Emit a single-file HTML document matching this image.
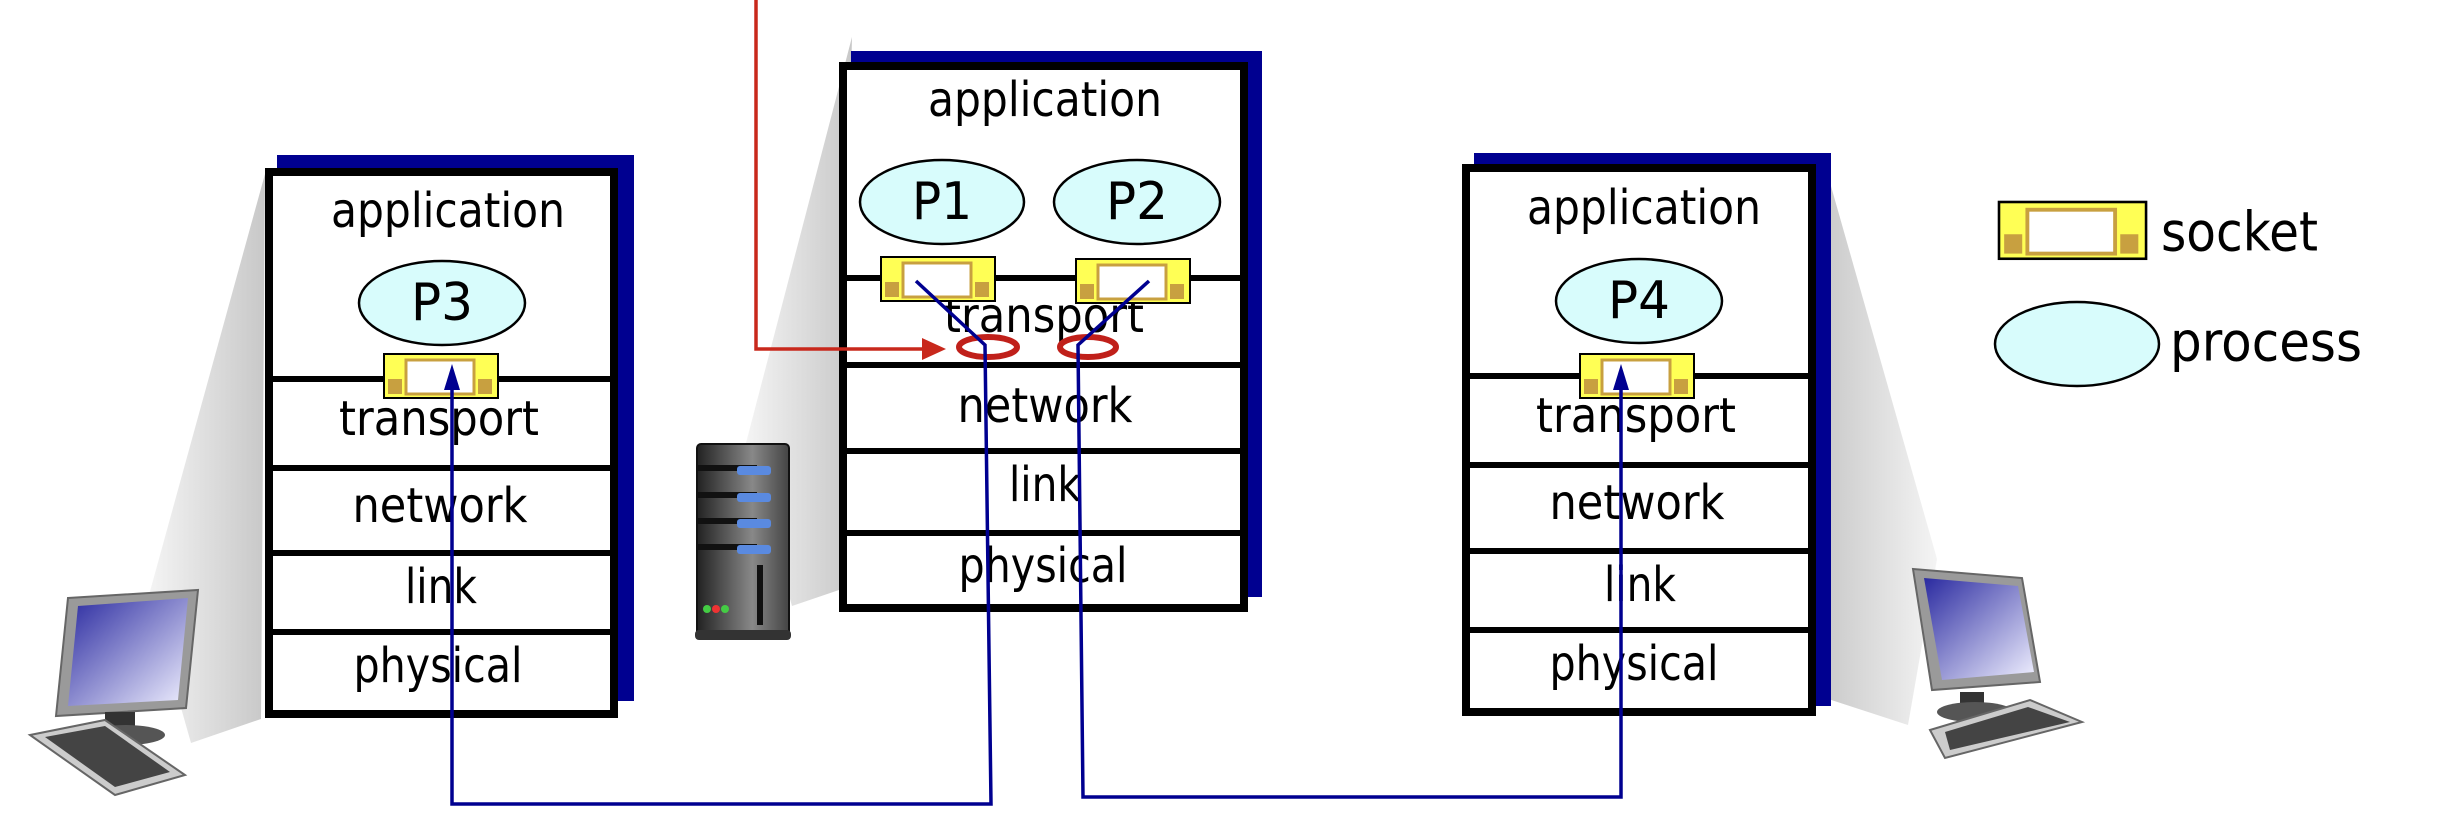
<!DOCTYPE html>
<html><head><meta charset="utf-8"><style>html,body{margin:0;padding:0;background:#fff}svg{display:block}</style></head>
<body>
<svg width="2464" height="826" viewBox="0 0 2464 826" xmlns="http://www.w3.org/2000/svg" font-family="DejaVu Sans, Liberation Sans, sans-serif">
<defs>
<linearGradient id="cone" x1="0" y1="0" x2="1" y2="0"><stop offset="0" stop-color="#f4f4f4"/><stop offset="1" stop-color="#c8c8c8"/></linearGradient>
<linearGradient id="cone2" x1="0" y1="0" x2="1" y2="0"><stop offset="0" stop-color="#c8c8c8"/><stop offset="1" stop-color="#f4f4f4"/></linearGradient>
<linearGradient id="scr" x1="0" y1="0" x2="1" y2="1"><stop offset="0" stop-color="#2a2aa0"/><stop offset="1" stop-color="#f0f0ff"/></linearGradient>
<linearGradient id="srv" x1="0" y1="0" x2="1" y2="0"><stop offset="0" stop-color="#222"/><stop offset="0.6" stop-color="#888"/><stop offset="1" stop-color="#444"/></linearGradient>
<g id="sock">
<rect x="0" y="0" width="114" height="44" fill="#ffff55" stroke="#000" stroke-width="2"/>
<rect x="22" y="6" width="68" height="34" fill="#fff" stroke="#c8a040" stroke-width="3"/>
<rect x="4" y="25" width="14" height="15" fill="#c8a040"/>
<rect x="94" y="25" width="14" height="15" fill="#c8a040"/>
</g>
</defs>

<polygon points="265,174 149,595 191,743 261,719" fill="url(#cone)"/>
<polygon points="852,37 746,443 792,606 839,590" fill="url(#cone)"/>
<polygon points="1823,158 1937,559 1908,725 1819,696" fill="url(#cone2)"/>

<g>
<polygon points="68,598 198,590 186,708 56,716" fill="#9a9a9a" stroke="#666" stroke-width="2"/>
<polygon points="78,606 188,598 178,700 68,706" fill="url(#scr)"/>
<rect x="105" y="712" width="30" height="18" fill="#333"/>
<ellipse cx="125" cy="735" rx="40" ry="10" fill="#555"/>
<polygon points="30,735 105,720 185,775 115,795" fill="#ccc" stroke="#666" stroke-width="2"/>
<polygon points="45,737 105,726 170,772 115,787" fill="#444"/>
</g>
<g>
<polygon points="1913,569 2022,578 2040,682 1932,690" fill="#9a9a9a" stroke="#666" stroke-width="2"/>
<polygon points="1924,578 2018,586 2034,672 1942,680" fill="url(#scr)"/>
<rect x="1960" y="692" width="24" height="16" fill="#333"/>
<ellipse cx="1975" cy="712" rx="38" ry="10" fill="#555"/>
<polygon points="1930,730 2030,700 2082,722 1945,758" fill="#ccc" stroke="#666" stroke-width="2"/>
<polygon points="1945,732 2028,707 2070,722 1950,750" fill="#444"/>
</g>
<g>
<rect x="697" y="444" width="92" height="194" rx="4" fill="url(#srv)" stroke="#111" stroke-width="2"/>
<rect x="697" y="465" width="60" height="6" fill="#111"/>
<rect x="737" y="466" width="34" height="9" rx="3" fill="#5a8ae0"/>
<rect x="697" y="492" width="60" height="6" fill="#111"/>
<rect x="737" y="493" width="34" height="9" rx="3" fill="#5a8ae0"/>
<rect x="697" y="518" width="60" height="6" fill="#111"/>
<rect x="737" y="519" width="34" height="9" rx="3" fill="#5a8ae0"/>
<rect x="697" y="544" width="60" height="6" fill="#111"/>
<rect x="737" y="545" width="34" height="9" rx="3" fill="#5a8ae0"/>
<rect x="757" y="565" width="6" height="60" fill="#111"/>
<circle cx="707" cy="609" r="4" fill="#4c4"/><circle cx="716" cy="609" r="4" fill="#e33"/><circle cx="725" cy="609" r="4" fill="#4c4"/>
<rect x="695" y="630" width="96" height="10" rx="4" fill="#333"/>
</g>

<!-- left stack -->
<rect x="277" y="155" width="357" height="546" fill="#000090"/>
<rect x="269" y="172" width="345" height="542" fill="#fff" stroke="#000" stroke-width="8"/>
<g stroke="#000" stroke-width="6"><line x1="269" y1="379" x2="614" y2="379"/><line x1="269" y1="468" x2="614" y2="468"/><line x1="269" y1="553" x2="614" y2="553"/><line x1="269" y1="632" x2="614" y2="632"/></g>
<g font-size="48" text-anchor="middle" dominant-baseline="central" fill="#000" lengthAdjust="spacingAndGlyphs">
<text x="448" y="211" textLength="234" lengthAdjust="spacingAndGlyphs">application</text><text x="439" y="419" textLength="200" lengthAdjust="spacingAndGlyphs">transport</text><text x="440" y="506" textLength="175" lengthAdjust="spacingAndGlyphs">network</text><text x="441" y="587" textLength="72" lengthAdjust="spacingAndGlyphs">link</text><text x="438" y="666" textLength="169" lengthAdjust="spacingAndGlyphs">physical</text>
</g>
<ellipse cx="442" cy="303" rx="83" ry="42" fill="#d8fcfc" stroke="#000" stroke-width="2.5"/>
<text x="442" y="303" font-size="52" text-anchor="middle" dominant-baseline="central" textLength="62" lengthAdjust="spacingAndGlyphs">P3</text>
<use href="#sock" x="384" y="354"/>

<!-- middle stack -->
<rect x="851" y="51" width="411" height="546" fill="#000090"/>
<rect x="843" y="66" width="401" height="542" fill="#fff" stroke="#000" stroke-width="8"/>
<g stroke="#000" stroke-width="6"><line x1="843" y1="278" x2="1244" y2="278"/><line x1="843" y1="365" x2="1244" y2="365"/><line x1="843" y1="451" x2="1244" y2="451"/><line x1="843" y1="533" x2="1244" y2="533"/></g>
<g font-size="48" text-anchor="middle" dominant-baseline="central" fill="#000">
<text x="1045" y="100" textLength="234" lengthAdjust="spacingAndGlyphs">application</text><text x="1044" y="316" textLength="200" lengthAdjust="spacingAndGlyphs">transport</text><text x="1045" y="406" textLength="175" lengthAdjust="spacingAndGlyphs">network</text><text x="1045" y="485" textLength="72" lengthAdjust="spacingAndGlyphs">link</text><text x="1043" y="566" textLength="169" lengthAdjust="spacingAndGlyphs">physical</text>
</g>
<ellipse cx="942" cy="202" rx="82" ry="42" fill="#d8fcfc" stroke="#000" stroke-width="2.5"/>
<text x="942" y="202" font-size="52" text-anchor="middle" dominant-baseline="central" textLength="60" lengthAdjust="spacingAndGlyphs">P1</text>
<ellipse cx="1137" cy="202" rx="83" ry="42" fill="#d8fcfc" stroke="#000" stroke-width="2.5"/>
<text x="1137" y="202" font-size="52" text-anchor="middle" dominant-baseline="central" textLength="62" lengthAdjust="spacingAndGlyphs">P2</text>
<use href="#sock" x="881" y="257"/>
<use href="#sock" x="1076" y="259"/>

<!-- right stack -->
<rect x="1474" y="153" width="357" height="553" fill="#000090"/>
<rect x="1466" y="168" width="346" height="544" fill="#fff" stroke="#000" stroke-width="8"/>
<g stroke="#000" stroke-width="6"><line x1="1466" y1="376" x2="1812" y2="376"/><line x1="1466" y1="465" x2="1812" y2="465"/><line x1="1466" y1="551" x2="1812" y2="551"/><line x1="1466" y1="630" x2="1812" y2="630"/></g>
<g font-size="48" text-anchor="middle" dominant-baseline="central" fill="#000">
<text x="1644" y="208" textLength="234" lengthAdjust="spacingAndGlyphs">application</text><text x="1636" y="416" textLength="200" lengthAdjust="spacingAndGlyphs">transport</text><text x="1637" y="503" textLength="175" lengthAdjust="spacingAndGlyphs">network</text><text x="1640" y="585" textLength="72" lengthAdjust="spacingAndGlyphs">link</text><text x="1634" y="664" textLength="169" lengthAdjust="spacingAndGlyphs">physical</text>
</g>
<ellipse cx="1639" cy="301" rx="83" ry="42" fill="#d8fcfc" stroke="#000" stroke-width="2.5"/>
<text x="1639" y="301" font-size="52" text-anchor="middle" dominant-baseline="central" textLength="62" lengthAdjust="spacingAndGlyphs">P4</text>
<use href="#sock" x="1580" y="354"/>

<polyline points="756,0 756,349 926,349" fill="none" stroke="#c8281c" stroke-width="3.5"/>
<polygon points="922,338 946,349 922,360" fill="#c8281c"/>
<ellipse cx="988" cy="347" rx="29" ry="10" fill="none" stroke="#c0201a" stroke-width="6"/>
<ellipse cx="1088" cy="347" rx="28" ry="10" fill="none" stroke="#c0201a" stroke-width="6"/>

<g fill="none" stroke="#000090" stroke-width="3.5">
<polyline points="916,281 985,345 991,804 452,804 452,385"/>
<polyline points="1149,281 1078,345 1083,797 1621,797 1621,378"/>
</g>
<polygon points="452,364 444,390 460,390" fill="#000090"/>
<polygon points="1621,364 1613,390 1629,390" fill="#000090"/>

<g transform="translate(1999,202) scale(1.29)"><use href="#sock"/></g>
<text x="2161" y="232" font-size="54" dominant-baseline="central" textLength="157" lengthAdjust="spacingAndGlyphs">socket</text>
<ellipse cx="2077" cy="344" rx="82" ry="42" fill="#d8fcfc" stroke="#000" stroke-width="2.5"/>
<text x="2170" y="342" font-size="54" dominant-baseline="central" textLength="192" lengthAdjust="spacingAndGlyphs">process</text>
</svg>
</body></html>
